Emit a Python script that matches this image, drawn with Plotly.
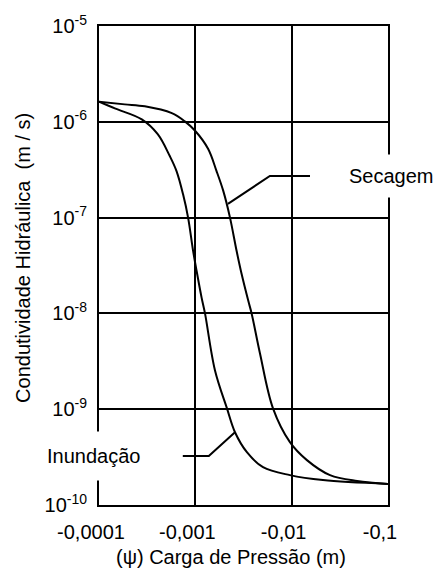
import numpy as np
import plotly.graph_objects as go

# ---- data ----
# Secagem (drying) curve: pressure head (m) and hydraulic conductivity (m/s)
psi_secagem = [-1.00e-4, -1.85e-4, -2.99e-4, -5.70e-4, -7.78e-4, -9.89e-4, -1.36e-3,
               -1.66e-3, -1.95e-3, -2.29e-3, -2.68e-3, -3.02e-3, -3.54e-3, -3.84e-3,
               -4.69e-3, -6.40e-3, -9.59e-3, -1.44e-2, -2.50e-2, -4.78e-2, -1.00e-1]
k_secagem = [1.62e-6, 1.52e-6, 1.45e-6, 1.23e-6, 1.01e-6, 8.11e-7, 5.20e-7,
             3.06e-7, 1.90e-7, 1.00e-7, 4.50e-8, 2.59e-8, 1.36e-8, 1.00e-8,
             3.82e-9, 1.02e-9, 4.53e-10, 2.94e-10, 2.05e-10, 1.78e-10, 1.66e-10]

# Inundacao (wetting) curve
psi_inundacao = [-1.00e-4, -1.46e-4, -2.78e-4, -4.07e-4, -5.43e-4, -6.38e-4, -7.46e-4,
                 -8.41e-4, -9.48e-4, -1.03e-3, -1.16e-3, -1.26e-3, -1.60e-3, -2.13e-3,
                 -2.58e-3, -3.43e-3, -5.04e-3, -9.59e-3, -2.11e-2, -1.00e-1]
k_inundacao = [1.62e-6, 1.38e-6, 1.06e-6, 7.43e-7, 4.39e-7, 3.06e-7, 1.75e-7,
               1.00e-7, 4.50e-8, 2.79e-8, 1.47e-8, 1.00e-8, 2.54e-9, 1.02e-9,
               5.75e-10, 3.56e-10, 2.48e-10, 2.05e-10, 1.82e-10, 1.66e-10]

# label leader lines (data units)
lead_sec_psi = [-1.55e-2, -5.94e-3, -2.18e-3]
lead_sec_k = [2.72e-7, 2.72e-7, 1.39e-7]
lead_inu_psi = [-7.41e-4, -1.38e-3, -2.58e-3]
lead_inu_k = [3.24e-10, 3.24e-10, 5.75e-10]

x_tickvals = [1e-4, 1e-3, 1e-2, 1e-1]
x_ticktext = ["-0,0001", "-0,001", "-0,01", "-0,1"]
y_tickvals = [1e-10, 1e-9, 1e-8, 1e-7, 1e-6, 1e-5]
y_ticktext = ["10<sup>-10</sup>", "10<sup>-9</sup>", "10<sup>-8</sup>",
              "10<sup>-7</sup>", "10<sup>-6</sup>", "10<sup>-5</sup>"]

FONT = "Liberation Sans, Arial, sans-serif"
line_style = dict(color="black", width=2)

fig = go.Figure()
fig.add_trace(go.Scatter(x=np.abs(psi_secagem), y=k_secagem, mode="lines",
                         line=dict(color="black", width=2, shape="spline", smoothing=1.0),
                         showlegend=False, hoverinfo="skip"))
fig.add_trace(go.Scatter(x=np.abs(psi_inundacao), y=k_inundacao, mode="lines",
                         line=dict(color="black", width=2, shape="spline", smoothing=1.0),
                         showlegend=False, hoverinfo="skip"))
fig.add_trace(go.Scatter(x=np.abs(lead_sec_psi), y=lead_sec_k, mode="lines",
                         line=line_style, showlegend=False, hoverinfo="skip", cliponaxis=False))
fig.add_trace(go.Scatter(x=np.abs(lead_inu_psi), y=lead_inu_k, mode="lines",
                         line=line_style, showlegend=False, hoverinfo="skip", cliponaxis=False))

fig.update_layout(
    width=438, height=572,
    margin=dict(l=99, r=50, t=24, b=67, pad=0),
    paper_bgcolor="white", plot_bgcolor="white",
    font=dict(family=FONT, size=20, color="black"),
    showlegend=False,
    xaxis=dict(type="log", range=[-4, -1], tickvals=x_tickvals, ticktext=x_ticktext,
               showgrid=True, gridcolor="black", gridwidth=2,
               showline=True, linecolor="black", linewidth=2, mirror=True,
               ticks="", tickfont=dict(size=20), ticklabelshift=-8, ticklabelstandoff=8),
    yaxis=dict(type="log", range=[-10, -5], tickvals=y_tickvals, ticktext=y_ticktext,
               showgrid=True, gridcolor="black", gridwidth=2,
               showline=True, linecolor="black", linewidth=2, mirror=True,
               ticks="", tickfont=dict(size=20), ticklabelstandoff=6),
)

fig.add_annotation(text="Secagem", xref="paper", yref="paper", x=1.0104, y=0.6868,
                   xanchor="center", yanchor="middle", showarrow=False,
                   bgcolor="white", borderpad=10, font=dict(size=20))
fig.add_annotation(text="Inundação", xref="paper", yref="paper", x=-0.0201, y=0.102,
                   xanchor="center", yanchor="middle", showarrow=False,
                   bgcolor="white", borderpad=13, font=dict(size=20))
fig.add_annotation(text="Condutividade Hidráulica\u00a0 (m / s)", xref="paper", yref="paper",
                   x=-0.261, y=0.515, textangle=-90, xanchor="center", yanchor="middle",
                   showarrow=False, font=dict(size=20))
fig.add_annotation(text="(ψ) Carga de Pressão (m)", xref="paper", yref="paper",
                   x=0.456, y=-0.108, xanchor="center", yanchor="middle",
                   showarrow=False, font=dict(size=20))

fig.write_html("out.html")
